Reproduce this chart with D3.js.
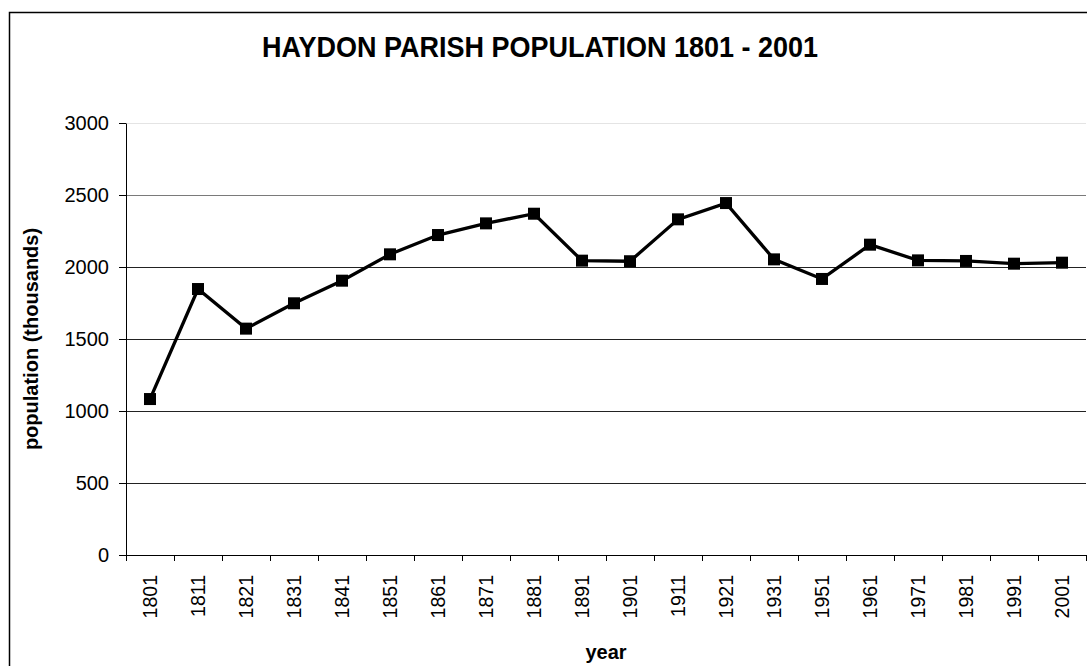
<!DOCTYPE html>
<html lang="en">
<head>
<meta charset="UTF-8">
<script src="https://d3js.org/d3.v7.min.js"></script>
<style>
  body { margin: 0; background: #fff; }
  text { font-family: Arial, "Liberation Sans", sans-serif; fill: #000; }
</style>
<title>Haydon Parish Population</title>
</head>
<body>
<div class="canvas"></div>
<script>
const years = ['1801', '1811', '1821', '1831', '1841', '1851', '1861', '1871', '1881', '1891',
  '1901', '1911', '1921', '1931', '1951', '1961', '1971', '1981', '1991', '2001']
const population = [1083, 1847, 1572, 1748, 1905, 2088, 2222, 2303, 2370, 2044,
  2040, 2331, 2444, 2053, 1917, 2155, 2046, 2042, 2023, 2030]
const yTicks = [0, 500, 1000, 1500, 2000, 2500, 3000]

const areaWidth = 1087
const areaHeight = 666
const [mt, mb, mr, ml] = [123, 111, 1, 126]
const graphWidth = areaWidth - ml - mr
const graphHeight = areaHeight - mt - mb

const svg = d3.select('.canvas').append('svg')
  .attr('width', areaWidth)
  .attr('height', areaHeight)

// outer frame (runs off the bottom/right like the original)
svg.append('rect')
  .attr('x', 9.5).attr('y', 12.5)
  .attr('width', 1200).attr('height', 800)
  .attr('fill', 'none').attr('stroke', '#000').attr('stroke-width', 1.5)

svg.append('text')
  .attr('transform', 'translate(540,57) scale(1,1.08)')
  .attr('text-anchor', 'middle')
  .style('font-size', '27px').style('font-weight', 'bold')
  .text('HAYDON PARISH POPULATION 1801 - 2001')

const x = d3.scaleBand().domain(years).range([0, graphWidth])
const y = d3.scaleLinear().domain([0, 3000]).range([graphHeight, 0])

const graph = svg.append('g').attr('transform', `translate(${ml},${mt})`)

// gridlines
const gridColour = v => v === 3000 ? '#e4e4e4' : v === 2500 ? '#7a7a7a' : '#222'
graph.append('g').selectAll('line').data(yTicks.filter(v => v > 0))
  .join('line')
  .attr('x1', 0).attr('x2', graphWidth)
  .attr('y1', d => Math.round(y(d)) + 0.5).attr('y2', d => Math.round(y(d)) + 0.5)
  .attr('stroke', gridColour)

const yAxisG = graph.append('g')
  .call(d3.axisLeft(y).tickValues(yTicks).tickFormat(d3.format('d'))
    .tickSize(7).tickPadding(10).tickSizeOuter(0))
yAxisG.selectAll('text').style('font-size', '20px')
yAxisG.selectAll('path, line').attr('stroke', '#000')

const xAxisG = graph.append('g')
  .attr('transform', `translate(0,${graphHeight})`)
  .call(d3.axisBottom(x).tickSize(0).tickSizeOuter(0))
xAxisG.select('.domain').attr('stroke', '#000')
xAxisG.selectAll('text')
  .style('font-size', '19.5px')
  .attr('transform', 'rotate(-90)')
  .attr('text-anchor', 'end')
  .attr('dy', '0.35em')
  .attr('x', -20)
  .attr('y', 0)
  .attr('dx', 0)

// category boundary ticks
xAxisG.append('g').selectAll('line').data(years.concat(['end']))
  .join('line')
  .attr('x1', (d, i) => i * x.step() + 0.5)
  .attr('x2', (d, i) => i * x.step() + 0.5)
  .attr('y1', 0).attr('y2', 6)
  .attr('stroke', '#000')

const line = d3.line()
  .x((d, i) => x(years[i]) + x.bandwidth() / 2)
  .y(d => y(d))

graph.append('path')
  .datum(population)
  .attr('d', line)
  .attr('fill', 'none')
  .attr('stroke', '#000')
  .attr('stroke-width', 3.3)

const ms = 12
graph.selectAll('rect.marker').data(population)
  .join('rect')
  .attr('class', 'marker')
  .attr('x', (d, i) => x(years[i]) + x.bandwidth() / 2 - ms / 2)
  .attr('y', d => y(d) - ms / 2)
  .attr('width', ms).attr('height', ms)
  .attr('fill', '#000')

svg.append('text')
  .attr('transform', `translate(38,${mt + graphHeight / 2}) rotate(-90)`)
  .attr('text-anchor', 'middle')
  .style('font-size', '20px').style('font-weight', 'bold')
  .text('population (thousands)')

svg.append('text')
  .attr('x', ml + graphWidth / 2).attr('y', 659)
  .attr('text-anchor', 'middle')
  .style('font-size', '20px').style('font-weight', 'bold')
  .text('year')
</script>
</body>
</html>
